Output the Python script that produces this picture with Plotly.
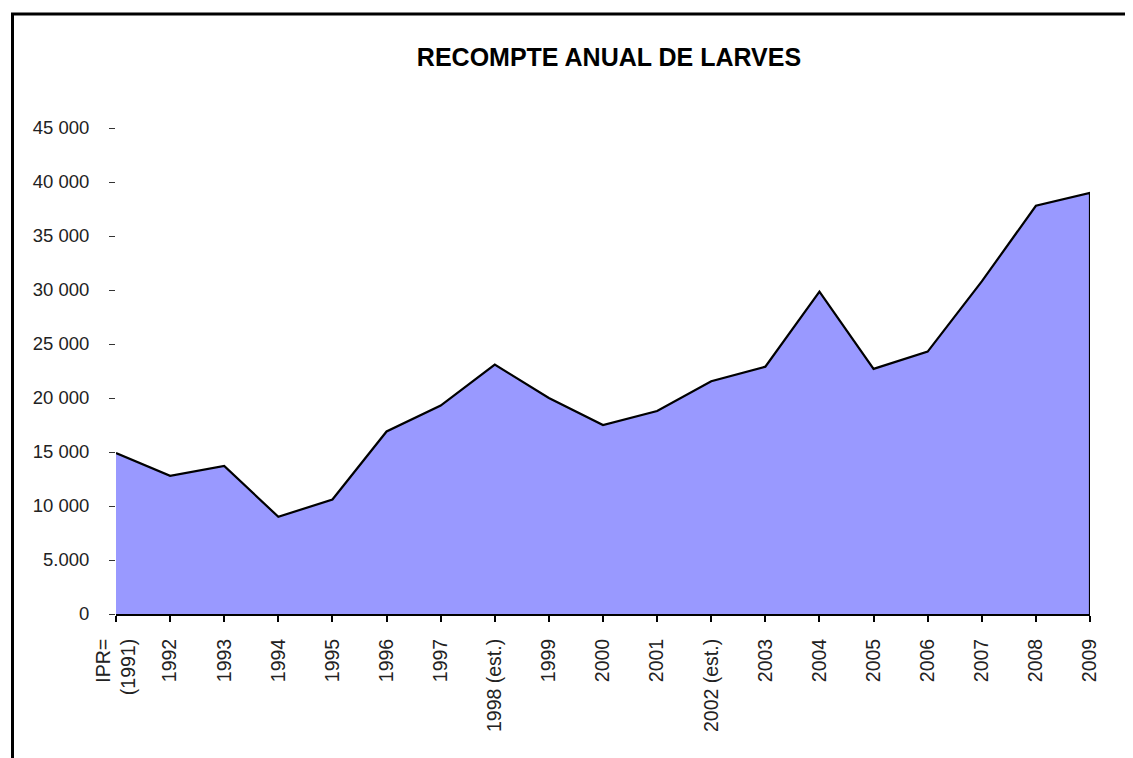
import plotly.graph_objects as go

categories = ["IPR=<br>(1991)", "1992", "1993", "1994", "1995", "1996", "1997",
              "1998 (est.)", "1999", "2000", "2001", "2002 (est.)", "2003", "2004",
              "2005", "2006", "2007", "2008", "2009"]
larvae = [14900, 12800, 13700, 9000, 10600, 16900, 19300, 23100, 20000, 17500,
          18800, 21550, 22900, 29850, 22700, 24300, 30800, 37800, 39000]
y_tickvals = [0, 5000, 10000, 15000, 20000, 25000, 30000, 35000, 40000, 45000]
y_ticktext = ["0", "5.000", "10 000", "15 000", "20 000", "25 000", "30 000",
              "35 000", "40 000", "45 000"]
title_text = "RECOMPTE ANUAL DE LARVES"

W, H = 1133, 758
OFF = 8  # page body margin
ml, mr, mt, mb = 116 - OFF, 1133 - (1090 - OFF), 128 - OFF, 758 - (614 - OFF)
pw, ph = W - ml - mr, H - mt - mb

xs = list(range(len(categories)))

fig = go.Figure()
fig.add_trace(go.Scatter(
    x=xs + [xs[-1]], y=larvae + [0],
    mode="lines", fill="tozeroy", fillcolor="#9999FF",
    line=dict(color="black", width=2.2), hoverinfo="skip", showlegend=False))

xfont = dict(family="Liberation Sans, Arial, sans-serif", size=19.5, color="#222")
yfont = dict(family="Liberation Sans, Arial, sans-serif", size=18.5, color="#222")

border_left = 12.5 - OFF
border_top = 14 - OFF

fig.update_layout(
    width=W, height=H, paper_bgcolor="white", plot_bgcolor="white",
    margin=dict(l=ml, r=mr, t=mt, b=mb),
    showlegend=False,
    title=dict(text="<b>" + title_text + "</b>", x=(609 - OFF) / W, xanchor="center",
               y=1 - (57 - OFF) / H, yanchor="middle",
               font=dict(family="Liberation Sans, Arial, sans-serif", size=25, color="black")),
    xaxis=dict(range=[0, len(categories) - 1], tickmode="array", tickvals=xs,
               ticktext=categories, tickangle=-90, showgrid=False, zeroline=False,
               showline=True, linecolor="black", linewidth=2, ticks="outside",
               ticklen=6, tickcolor="black", tickwidth=1.5, tickfont=xfont,
               ticklabelstandoff=9),
    yaxis=dict(range=[0, 45000], tickmode="array", tickvals=y_tickvals,
               ticktext=y_ticktext, showgrid=False, zeroline=False, showline=False,
               ticks="outside", ticklen=6, tickcolor="#333", tickwidth=1,
               tickfont=yfont, ticklabelstandoff=16),
    shapes=[dict(type="rect", xref="paper", yref="paper",
                 x0=(border_left - ml) / pw, x1=(W + 40 - ml) / pw,
                 y0=-(mb + 40) / ph, y1=(H - mb - border_top) / ph,
                 line=dict(color="black", width=3), fillcolor="rgba(0,0,0,0)",
                 layer="above")],
)

fig.write_html("out.html")
